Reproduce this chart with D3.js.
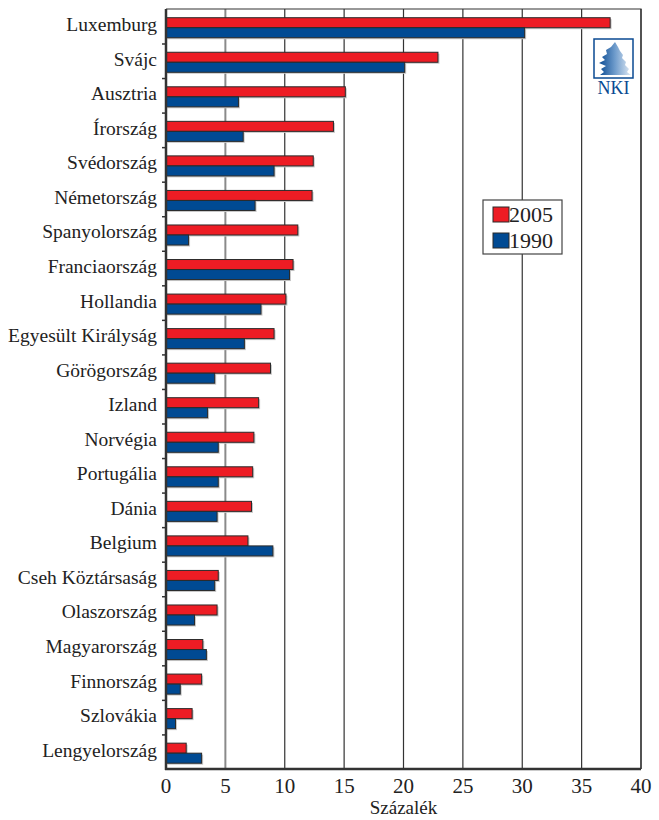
<!DOCTYPE html>
<html>
<head>
<meta charset="utf-8">
<script src="https://cdn.jsdelivr.net/npm/d3@7"></script>
<style>
  body { margin: 0; background: #fff; }
  svg text { font-family: "Liberation Serif", "DejaVu Serif", serif; fill: #222; }
</style>
</head>
<body>
<div id="chart"></div>
<script>
// Data
const categories = ["Luxemburg", "Svájc", "Ausztria", "Írország", "Svédország", "Németország",
  "Spanyolország", "Franciaország", "Hollandia", "Egyesült Királyság", "Görögország", "Izland",
  "Norvégia", "Portugália", "Dánia", "Belgium", "Cseh Köztársaság", "Olaszország",
  "Magyarország", "Finnország", "Szlovákia", "Lengyelország"];
const values2005 = [37.4, 22.9, 15.1, 14.1, 12.4, 12.3, 11.1, 10.7, 10.1, 9.1, 8.8, 7.8,
  7.4, 7.3, 7.2, 6.9, 4.4, 4.3, 3.1, 3.0, 2.2, 1.7];
const values1990 = [30.2, 20.1, 6.1, 6.5, 9.1, 7.5, 1.9, 10.4, 8.0, 6.6, 4.1, 3.5,
  4.4, 4.4, 4.3, 9.0, 4.1, 2.4, 3.4, 1.2, 0.8, 3.0];
const seriesNames = ["2005", "1990"];
const xTicks = [0, 5, 10, 15, 20, 25, 30, 35, 40];

const width = 659, height = 820;
const margin = {top: 9, right: 18, bottom: 51, left: 166};
const colors = {"2005": "#ed1c24", "1990": "#004a93"};

const data = categories.map(function(c, i) {
  return {name: c, "2005": values2005[i], "1990": values1990[i]};
});

const svg = d3.select("#chart").append("svg")
  .attr("width", width)
  .attr("height", height);

// Scales
const xScale = d3.scaleLinear()
  .domain([0, 40])
  .range([margin.left, width - margin.right]);
const yScale = d3.scaleBand()
  .domain(categories)
  .range([margin.top, height - margin.bottom])
  .paddingInner(0.42)
  .paddingOuter(0.21)
  .align(0.6);
const ySub = d3.scaleBand()
  .domain(seriesNames)
  .range([0, yScale.bandwidth()]);
const step = yScale.step();

// Gridlines
svg.append("g")
  .selectAll("line")
  .data(xTicks.filter(function(d) { return d > 0; }))
  .enter()
  .append("line")
  .attr("x1", function(d) { return xScale(d); })
  .attr("x2", function(d) { return xScale(d); })
  .attr("y1", margin.top)
  .attr("y2", height - margin.bottom)
  .attr("stroke", function(d) { return d === 5 ? "#8a8a8a" : "#333"; })
  .attr("stroke-width", function(d) { return d === 5 ? 2 : 1.2; });

// Frame (top and right)
svg.append("path")
  .attr("d", "M" + margin.left + "," + margin.top + "H" + (width - margin.right) + "V" + (height - margin.bottom))
  .attr("fill", "none")
  .attr("stroke", "#333")
  .attr("stroke-width", 1.2);

// Bars
const groups = svg.selectAll(".cat")
  .data(data)
  .enter()
  .append("g")
  .attr("class", "cat")
  .attr("transform", function(d) { return "translate(0," + yScale(d.name) + ")"; });

seriesNames.forEach(function(s) {
  // shadow
  groups.append("rect")
    .attr("x", xScale(0) + 1.5)
    .attr("y", ySub(s) + 1.5)
    .attr("width", function(d) { return xScale(d[s]) - xScale(0); })
    .attr("height", ySub.bandwidth())
    .attr("fill", "#c8c8c8");
  groups.append("rect")
    .attr("x", xScale(0))
    .attr("y", ySub(s))
    .attr("width", function(d) { return xScale(d[s]) - xScale(0); })
    .attr("height", ySub.bandwidth())
    .attr("fill", colors[s])
    .attr("stroke", "#2a2a2a")
    .attr("stroke-width", 1);
});

// Left axis: ticks between categories
svg.append("g")
  .selectAll("line")
  .data(categories.slice(1))
  .enter()
  .append("line")
  .attr("x1", xScale(0) - 4)
  .attr("x2", xScale(0))
  .attr("y1", function(d) { return yScale(d) - step * 0.21 - 1; })
  .attr("y2", function(d) { return yScale(d) - step * 0.21 - 1; })
  .attr("stroke", "#333")
  .attr("stroke-width", 1.5);

svg.append("g")
  .selectAll("text")
  .data(categories)
  .enter()
  .append("text")
  .attr("x", xScale(0) - 9)
  .attr("y", function(d) { return yScale(d) + yScale.bandwidth() / 2 - 1; })
  .attr("text-anchor", "end")
  .attr("dominant-baseline", "middle")
  .style("font-size", "19.5px")
  .text(function(d) { return d; });

svg.append("line")
  .attr("x1", xScale(0)).attr("x2", xScale(0))
  .attr("y1", margin.top).attr("y2", height - margin.bottom + 1)
  .attr("stroke", "#333").attr("stroke-width", 2.5);

// Bottom axis
svg.append("line")
  .attr("x1", xScale(0) - 1).attr("x2", width - margin.right)
  .attr("y1", height - margin.bottom).attr("y2", height - margin.bottom)
  .attr("stroke", "#333").attr("stroke-width", 2.5);

svg.append("g")
  .selectAll("text")
  .data(xTicks)
  .enter()
  .append("text")
  .attr("x", function(d) { return xScale(d); })
  .attr("y", height - margin.bottom + 24)
  .attr("text-anchor", "middle")
  .style("font-size", "21px")
  .text(function(d) { return d; });

svg.append("text")
  .attr("x", xScale(20))
  .attr("y", height - 6)
  .attr("text-anchor", "middle")
  .style("font-size", "19px")
  .text("Százalék");

// Legend
const legend = svg.append("g").attr("transform", "translate(483,200)");
legend.append("rect")
  .attr("width", 79).attr("height", 54)
  .attr("fill", "#fff").attr("stroke", "#444").attr("stroke-width", 1.2);
seriesNames.forEach(function(s, i) {
  legend.append("rect")
    .attr("x", 10).attr("y", 7 + i * 26)
    .attr("width", 16).attr("height", 15)
    .attr("fill", colors[s]).attr("stroke", "#2a2a2a");
  legend.append("text")
    .attr("x", 26).attr("y", 22 + i * 26)
    .style("font-size", "22px")
    .text(s);
});

// NKI logo
const logo = svg.append("g").attr("transform", "translate(594,39)");
const grad = svg.append("defs").append("linearGradient").attr("id", "lg");
grad.append("stop").attr("offset", "0%").attr("stop-color", "#0a4a92");
grad.append("stop").attr("offset", "50%").attr("stop-color", "#6f9ccc");
grad.append("stop").attr("offset", "100%").attr("stop-color", "#dfe9f4");
logo.append("rect").attr("width", 39).attr("height", 39)
  .attr("fill", "#fff").attr("stroke", "#0a4a92").attr("stroke-width", 1.5);
logo.append("path")
  .attr("d", "M21,3 L24,8 L26,12 L29,16 L28,19 L32,23 L31,26 L35,30 L33,33 L37,36 L6,36 L10,33 L7,30 L12,27 L5,24 L11,21 L8,18 L13,15 L12,11 L17,8 Z")
  .attr("fill", "url(#lg)");
logo.append("text")
  .attr("x", 19.5).attr("y", 55)
  .attr("text-anchor", "middle")
  .style("font-size", "18px")
  .style("fill", "#0a4a92")
  .text("NKI");
</script>
</body>
</html>
